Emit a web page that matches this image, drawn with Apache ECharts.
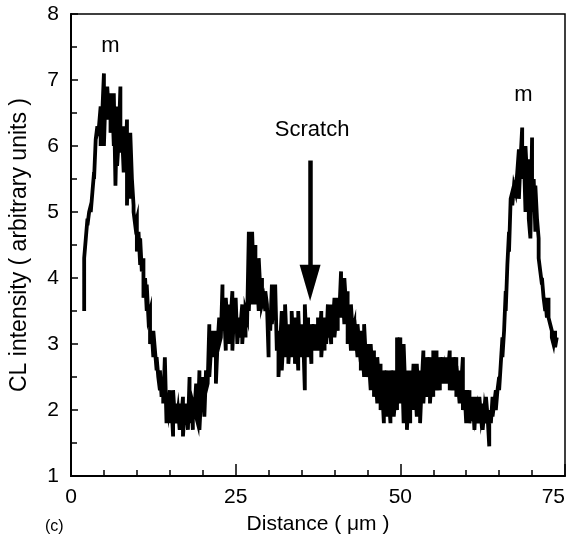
<!DOCTYPE html>
<html><head><meta charset="utf-8">
<script src="https://cdn.jsdelivr.net/npm/echarts@6/dist/echarts.min.js"></script>
<style>html,body{margin:0;padding:0;background:#fff}#c{width:568px;height:546px}</style>
</head><body><div id="c"></div>
<script>
// base sampling positions (µm); each has three read values (spike top/bottom and the next quarter-µm)
const distance = [2,2.5,3,3.5,4,4.5,5,5.5,6,6.5,7,7.5,8,8.5,9,9.5,10,10.5,11,11.5,12,12.5,13,13.5,14,14.5,15,15.5,16,16.5,17,17.5,18,18.5,19,19.5,20,20.5,21,21.5,22,22.5,23,23.5,24,24.5,25,25.5,26,26.5,27,27.5,28,28.5,29,29.5,30,30.5,31,31.5,32,32.5,33,33.5,34,34.5,35,35.5,36,36.5,37,37.5,38,38.5,39,39.5,40,40.5,41,41.5,42,42.5,43,43.5,44,44.5,45,45.5,46,46.5,47,47.5,48,48.5,49,49.5,50,50.5,51,51.5,52,52.5,53,53.5,54,54.5,55,55.5,56,56.5,57,57.5,58,58.5,59,59.5,60,60.5,61,61.5,62,62.5,63,63.5,64,64.5,65,65.5,66,66.5,67,67.5,68,68.5,69,69.5,70,70.5,71,71.5,72,72.5,73,73.5];
const intensity = [
[3.5,4.3,4.6],[4.9,4.8,5.0],[5.1,5.0,5.3],[5.6,5.5,6.1],[6.3,6.2,6.3],[6.6,6.0,6.5],[7.1,6.0,6.8],[6.4,6.9,6.5],
[6.8,6.2,6.7],[6.0,6.8,5.4],[6.6,5.7,6.1],[6.9,5.9,6.2],[5.6,6.3,5.7],[6.4,5.1,6.2],[5.2,6.2,5.5],[5.1,5.0,4.8],
[4.9,4.4,4.7],[4.2,4.6,4.1],[4.3,3.7,4.0],[3.5,3.9,3.4],[3.5,3.0,3.2],[2.8,3.2,2.9],[2.6,2.8,2.5],[2.3,2.6,2.2],
[2.4,2.1,2.8],[1.8,2.2,2.0],[2.3,1.8,2.1],[1.6,2.3,1.9],[2.1,1.8,2.0],[1.7,2.1,1.9],[2.2,1.6,2.0],[1.8,2.1,1.7],
[2.5,1.8,2.2],[1.7,2.1,2.0],[2.4,1.9,1.8],[2.6,1.7,2.2],[2.0,2.5,1.9],[2.6,2.3,2.4],[3.3,2.5,2.9],[3.0,3.2,2.8],
[3.2,2.4,3.0],[3.4,3.0,3.1],[3.9,3.2,3.5],[2.9,3.7,3.3],[3.6,3.0,3.4],[3.8,2.9,3.5],[3.2,3.7,3.0],[3.4,3.1,3.3],
[3.6,3.0,3.4],[3.1,3.5,3.4],[4.7,3.5,4.2],[3.6,4.7,3.9],[4.5,3.6,4.0],[3.5,4.3,3.8],[4.0,3.6,3.7],[3.5,3.8,3.6],
[2.8,3.4,3.2],[3.9,3.3,3.6],[3.4,3.9,2.9],[3.2,2.5,3.0],[3.5,2.6,3.1],[2.8,3.6,3.0],[3.3,2.7,3.1],[2.8,3.5,3.0],
[3.4,2.7,3.2],[2.6,3.5,2.9],[3.3,2.8,3.1],[2.3,3.6,3.0],[3.4,2.8,3.1],[2.7,3.3,3.0],[3.3,2.9,3.1],[2.9,3.4,3.0],
[3.5,2.8,3.2],[2.9,3.4,3.0],[3.6,3.1,3.3],[3.0,3.6,3.3],[3.7,3.1,3.4],[3.2,3.7,3.5],[4.1,3.4,3.8],[3.3,4.0,3.6],
[3.8,3.0,3.4],[2.9,3.6,3.2],[3.3,2.9,3.1],[2.8,3.3,3.0],[3.2,2.6,2.9],[2.5,3.3,2.8],[3.0,2.5,2.7],[2.3,3.0,2.6],
[2.9,2.2,2.5],[2.1,2.8,2.4],[2.7,2.0,2.3],[1.8,2.6,2.1],[2.6,1.9,2.2],[1.8,2.6,2.0],[2.6,1.9,2.2],[2.0,3.1,2.5],
[3.1,2.1,2.7],[1.8,3.0,2.3],[2.6,1.7,2.2],[1.8,2.6,2.1],[2.7,2.0,2.4],[1.9,2.7,2.2],[2.6,1.8,2.4],[2.9,2.1,2.6],
[2.2,2.8,2.4],[2.8,2.1,2.5],[2.2,2.9,2.6],[2.9,2.3,2.5],[2.3,2.8,2.6],[2.8,2.4,2.6],[2.4,2.8,2.6],[2.9,2.3,2.5],
[2.3,2.8,2.5],[2.8,2.2,2.4],[2.1,2.6,2.4],[2.8,2.0,2.3],[1.8,2.3,2.0],[2.3,1.8,2.0],[1.9,2.2,1.7],[2.2,1.8,2.0],
[1.8,2.2,1.9],[2.1,1.7,2.0],[1.8,2.2,1.9],[1.45,2.0,1.8],[2.2,1.9,2.1],[2.3,2.0,2.3],[2.5,2.3,2.7],[3.1,2.8,3.2],
[3.8,3.5,4.2],[4.7,4.4,5.2],[5.3,5.1,5.4],[5.4,5.3,5.6],[5.95,5.2,5.8],[6.28,5.5,5.9],[5.0,6.0,5.5],[5.8,4.9,4.6],
[6.13,5.0,5.5],[4.7,5.4,4.9],[4.6,4.3,4.1],[3.9,4.0,3.7],[3.5,3.7,3.4],[3.7,3.4,3.3],[3.2,3.1,3.0],[3.2,2.95,3.1]
];
const subStep = 0.25;
const xTickValues = [0, 25, 50, 75];
const yTickValues = [1, 2, 3, 4, 5, 6, 7, 8];
const annotationText = ['m', 'm', 'Scratch'];
const annotationX = [6.0, 68.7, 36.6];
const annotationY = [7.51, 6.77, 6.24];
const arrowX = 36.3, arrowTop = 5.78, arrowHeadBase = 4.2, arrowTip = 3.65;

const FONT = '"Liberation Sans", Arial, Helvetica, sans-serif';
const points = [];
distance.forEach((d, i) => {
  const v = intensity[i];
  points.push([d, v[0]], [d, v[1]], [d + subStep, v[2]]);
});
const annData = annotationText.map((t, i) => [annotationX[i], annotationY[i], t]);

const chart = echarts.init(document.getElementById('c'), null, {renderer: 'canvas'});
chart.setOption({
  animation: false,
  backgroundColor: '#fff',
  title: {text: '(c)', left: 40, top: 514, textStyle: {fontFamily: FONT, fontSize: 16, fontWeight: 'normal', color: '#000'}},
  grid: {left: 71, right: 3, top: 14, bottom: 70, show: true, borderColor: '#000', borderWidth: 1.5, containLabel: false, outerBoundsMode: 'none'},
  xAxis: {
    type: 'value', min: xTickValues[0], max: xTickValues[xTickValues.length - 1], interval: 25,
    name: 'Distance ( μm )', nameLocation: 'middle', nameGap: 38,
    nameTextStyle: {fontFamily: FONT, fontSize: 21, color: '#000'},
    axisLine: {show: true, lineStyle: {color: '#000', width: 2}},
    axisTick: {show: true, inside: true, length: 12, lineStyle: {color: '#000', width: 1.5}},
    minorTick: {show: true, splitNumber: 5, length: 6, lineStyle: {color: '#000', width: 1.5}},
    axisLabel: {fontFamily: FONT, fontSize: 21, color: '#000', margin: 11, alignMaxLabel: 'right'},
    splitLine: {show: false}, minorSplitLine: {show: false}
  },
  yAxis: {
    type: 'value', min: yTickValues[0], max: yTickValues[yTickValues.length - 1], interval: 1,
    name: 'CL intensity ( arbitrary units )', nameLocation: 'middle', nameGap: 40, nameRotate: 90,
    nameTextStyle: {fontFamily: FONT, fontSize: 23, color: '#000'},
    axisLine: {show: true, lineStyle: {color: '#000', width: 2}},
    axisTick: {show: true, inside: true, length: 7, lineStyle: {color: '#000', width: 1.5}},
    minorTick: {show: true, splitNumber: 2, length: 6, lineStyle: {color: '#000', width: 1.5}},
    axisLabel: {fontFamily: FONT, fontSize: 21, color: '#000', margin: 12},
    splitLine: {show: false}, minorSplitLine: {show: false}
  },
  series: [
    {
      type: 'line', data: points, showSymbol: false, symbol: 'none', sampling: null,
      lineStyle: {color: '#000', width: 3.8, join: 'miter'}, silent: true,
      markLine: {
        silent: true, animation: false,
        symbol: ['none', 'triangle'], symbolSize: [21, (arrowHeadBase - arrowTip) * 66],
        label: {show: false},
        lineStyle: {color: '#000', width: 4.5, type: 'solid', opacity: 1},
        data: [[{coord: [arrowX, arrowTop]}, {coord: [arrowX, (arrowHeadBase + arrowTip) / 2]}]]
      }
    },
    {
      type: 'scatter', data: annData, symbolSize: 1, itemStyle: {color: 'rgba(0,0,0,0)', opacity: 1}, silent: true,
      label: {show: true, position: 'inside', formatter: p => p.value[2], fontFamily: FONT, fontSize: 22,
        color: '#000', opacity: 1, textBorderWidth: 0}
    }
  ]
});
</script></body></html>
